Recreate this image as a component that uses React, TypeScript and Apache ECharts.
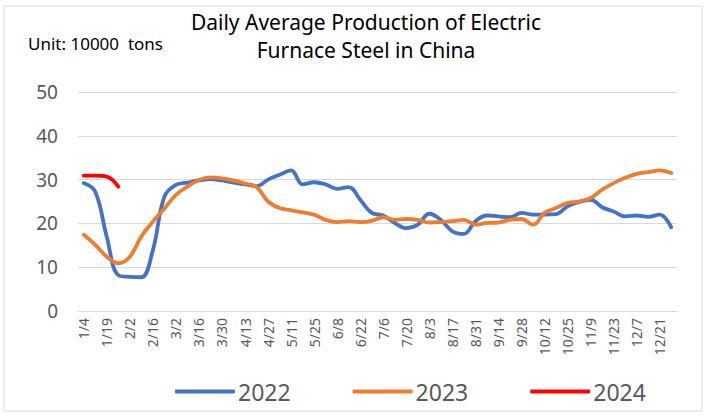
import React, { useEffect, useRef } from "react";
import * as echarts from "echarts";

const categories = [
  "1/4", "1/11", "1/19", "1/26", "2/2", "2/9", "2/16", "2/23", "3/2", "3/9",
  "3/16", "3/23", "3/30", "4/6", "4/13", "4/20", "4/27", "5/4", "5/11", "5/18",
  "5/25", "6/1", "6/8", "6/15", "6/22", "6/29", "7/6", "7/13", "7/20", "7/27",
  "8/3", "8/10", "8/17", "8/24", "8/31", "9/7", "9/14", "9/21", "9/28", "10/5",
  "10/12", "10/19", "10/25", "11/2", "11/9", "11/16", "11/23", "11/30", "12/7", "12/14",
  "12/21", "12/28",
];

const series2022 = [
  29.2, 27.2, 16.9, 8.2, 7.8, 7.7, 13.9, 26.1, 28.8, 29.3,
  29.8, 30.1, 29.8, 29.3, 28.9, 28.5, 30.0, 31.1, 32.1, 28.9,
  29.4, 28.9, 27.9, 28.3, 25.4, 22.4, 21.8, 20.1, 18.9, 19.7,
  22.2, 20.8, 18.2, 17.6, 20.5, 21.8, 21.6, 21.4, 22.4, 22.0,
  22.0, 22.1, 23.9, 24.9, 25.4, 23.7, 22.7, 21.6, 21.8, 21.5,
  22.0, 19.1,
];

const series2023 = [
  17.4, 15.1, 12.4, 10.9, 12.4, 17.0, 20.4, 23.4, 26.5, 28.4,
  29.9, 30.5, 30.3, 29.8, 29.1, 28.3, 25.0, 23.5, 23.0, 22.5,
  22.0, 20.8, 20.3, 20.5, 20.3, 20.6, 21.4, 20.8, 21.0, 20.8,
  20.2, 20.3, 20.5, 20.8, 19.7, 20.1, 20.2, 20.8, 21.0, 19.7,
  22.4, 23.5, 24.7, 25.0, 25.8, 27.7, 29.2, 30.4, 31.3, 31.7,
  32.1, 31.5,
];

const series2024 = [30.9, 30.9, 30.7, 28.4];

const yTicks = [0, 10, 20, 30, 40, 50];

export default function App() {
  const ref = useRef<HTMLDivElement>(null);
  useEffect(() => {
    document.body.style.margin = "0";
    const chart = echarts.init(ref.current!, null, { renderer: "svg" });
    const font = "'Noto Sans', 'Open Sans', sans-serif";
    const mk = (name: string, data: number[], color: string) => ({
      name,
      type: "line",
      data,
      smooth: 0.4,
      symbol: "none",
      lineStyle: { width: 3.8, color, cap: "round" },
      itemStyle: { color },
    });
    chart.setOption({
      animation: false,
      textStyle: { fontFamily: font },
      title: {
        text: "Daily Average Production of Electric\nFurnace Steel in China",
        left: 361,
        textAlign: "center",
        top: 3,
        textStyle: {
          fontFamily: font,
          fontSize: 21,
          fontWeight: "normal",
          color: "#000",
          lineHeight: 28,
        },
      },
      graphic: [
        {
          type: "rect",
          shape: { x: 4, y: 6, width: 698, height: 405 },
          style: { fill: "none", stroke: "#d9d9d9", lineWidth: 1 },
          silent: true,
        },
        {
          type: "text",
          left: 28,
          top: 35,
          style: {
            text: "Unit: 10000  tons",
            fontFamily: font,
            fontSize: 17,
            fill: "#000",
          },
        },
      ],
      legend: {
        left: 170,
        top: 375,
        itemWidth: 60,
        itemHeight: 4,
        itemGap: 62,
        icon: "roundRect",
        textStyle: {
          fontFamily: font,
          fontSize: 23,
          color: "#595959",
          padding: [0, 0, 0, -2],
        },
        data: ["2022", "2023", "2024"],
      },
      grid: { left: 78, right: 31, top: 92, bottom: 109 },
      xAxis: {
        type: "category",
        data: categories,
        boundaryGap: true,
        axisLine: { lineStyle: { color: "#d9d9d9", width: 1 } },
        axisTick: { show: false },
        axisLabel: {
          interval: 1,
          rotate: 90,
          fontFamily: font,
          fontSize: 14,
          color: "#595959",
          margin: 7,
        },
      },
      yAxis: {
        type: "value",
        min: yTicks[0],
        max: yTicks[yTicks.length - 1],
        interval: 10,
        axisLine: { show: false },
        axisTick: { show: false },
        splitLine: { lineStyle: { color: "#d9d9d9", width: 1 } },
        axisLabel: {
          fontFamily: font,
          fontSize: 19,
          color: "#595959",
          margin: 20,
        },
      },
      series: [
        mk("2022", series2022, "#4472C4"),
        mk("2023", series2023, "#ED7D31"),
        mk("2024", series2024, "#FF0000"),
      ],
    });
    return () => chart.dispose();
  }, []);
  return <div ref={ref} style={{ width: 708, height: 420 }} />;
}
